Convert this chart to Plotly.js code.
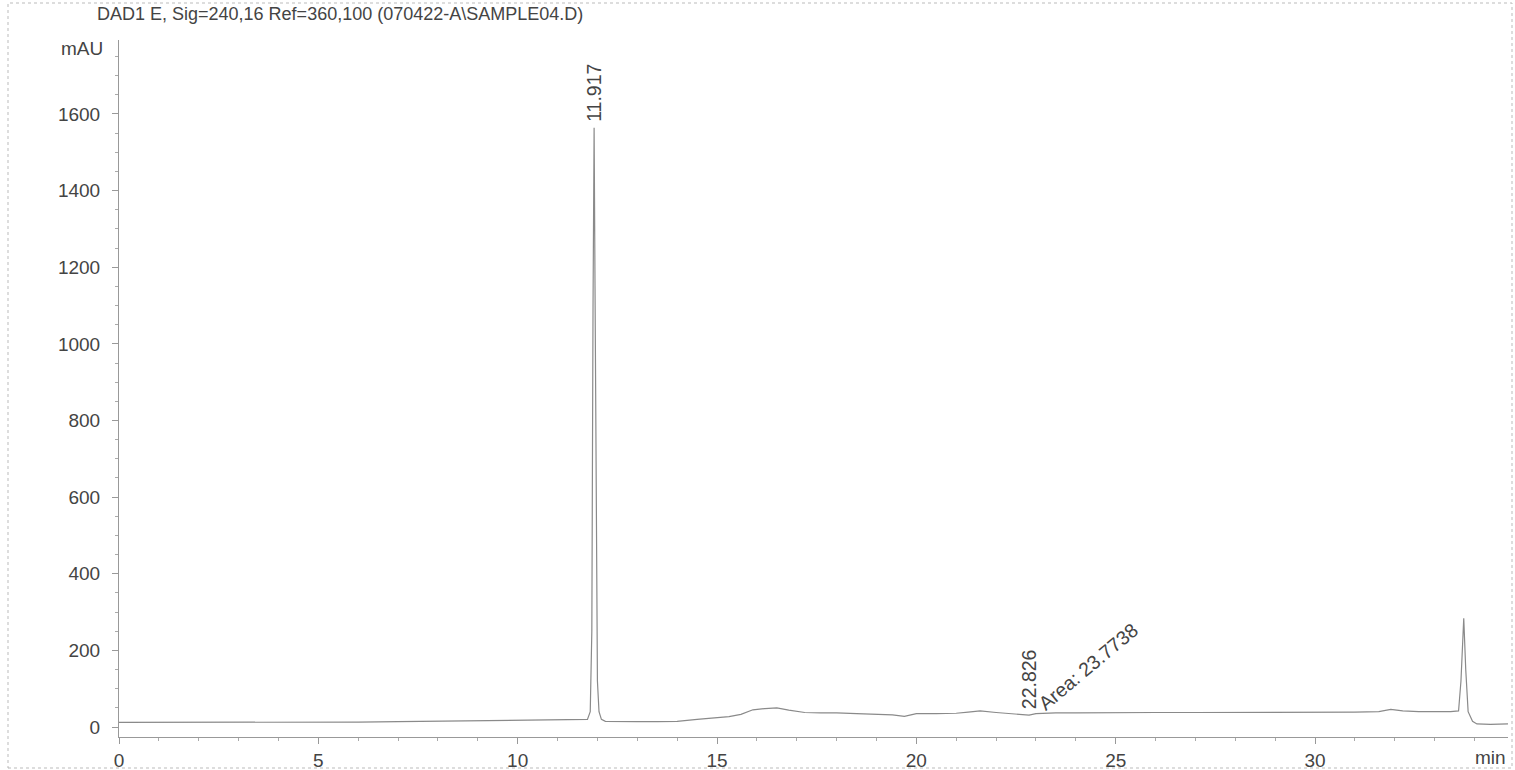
<!DOCTYPE html>
<html><head><meta charset="utf-8">
<script src="https://cdn.plot.ly/plotly-3.0.1.min.js"></script>
<style>html,body{margin:0;padding:0;background:#fff;}#chart{width:1515px;height:770px;}</style>
</head><body><div id="chart"></div>
<script>
const titleText = "DAD1 E, Sig=240,16 Ref=360,100 (070422-A\\SAMPLE04.D)";
const timeMin = [0,1,2,3,4,5,6,7,8,9,10,10.5,11,11.5,11.75,11.82,11.86,11.89,11.917,11.94,11.97,12.0,12.04,12.1,12.2,12.5,13,13.5,14,14.5,15,15.3,15.6,15.9,16.2,16.5,16.8,17.2,17.6,18,18.5,19,19.4,19.7,20,20.5,21,21.3,21.6,22,22.4,22.7,22.826,23,23.5,24,25,26,27,28,29,30,31,31.6,31.9,32.2,32.6,33,33.4,33.6,33.66,33.73,33.78,33.84,33.95,34.06,34.4,34.84];
const signalMAU = [12,12,13,13,13,13,13,14,15,16,17,18,19,20,20,40,250,1100,1564,1150,450,120,40,20,15,14,14,14,15,20,25,27,33,45,48,50,44,38,37,37,35,33,32,28,35,35,36,39,42,38,34,32,31,35,37,37,38,38,38,38,38,38,39,40,46,42,40,40,40,42,120,284,150,40,15,8,7,8];
const peakLabels = [{t:11.917, v:1564, text:"11.917"},{t:22.826, v:31, text:"22.826"}];
const areaLabel = {t:23.0, v:36, text:"Area: 23.7738"};

const gray = "#444";
const fam = "Liberation Sans, Arial";
const data = [{
  x: timeMin, y: signalMAU, type: "scatter", mode: "lines",
  line: {color: "#8a8a8a", width: 1.2}, hoverinfo: "x+y", showlegend: false
}];

const ann = [];
peakLabels.forEach(p => ann.push({
  x: p.t, y: p.v, text: p.text, showarrow: false, textangle: -90,
  xanchor: "center", yanchor: "bottom", yshift: 4,
  font: {family: fam, size: 19.5, color: gray}
}));
ann.push({
  x: areaLabel.t, y: areaLabel.v, text: areaLabel.text, showarrow: false, textangle: -40,
  xanchor: "left", yanchor: "bottom", xshift: -4, yshift: -4,
  font: {family: fam, size: 19.5, color: gray}
});
ann.push({xref: "paper", yref: "y", x: 0, y: 1770, text: "mAU", showarrow: false,
  xanchor: "right", yanchor: "middle", xshift: -14,
  font: {family: fam, size: 19, color: gray}});
ann.push({xref: "paper", yref: "paper", x: 1, y: 0, text: "min", showarrow: false,
  xanchor: "right", yanchor: "top", yshift: -8,
  font: {family: fam, size: 19, color: gray}});
ann.push({xref: "paper", yref: "paper", x: 0, y: 1, text: titleText, showarrow: false,
  xanchor: "left", yanchor: "middle", xshift: -24, yshift: 26,
  font: {family: fam, size: 18, color: gray}});

const layout = {
  width: 1515, height: 770,
  margin: {l: 119, r: 7, t: 40, b: 33},
  paper_bgcolor: "#fff", plot_bgcolor: "#fff",
  showlegend: false,
  xaxis: {
    range: [0, 34.84], showgrid: false, zeroline: false,
    showline: true, linecolor: "#999", linewidth: 1,
    tickmode: "linear", tick0: 0, dtick: 5, ticks: "outside", ticklen: 6, tickcolor: "#999",
    minor: {tickmode: "linear", tick0: 0, dtick: 1, ticks: "outside", ticklen: 3, tickcolor: "#aaa"},
    tickfont: {family: fam, size: 19, color: gray}
  },
  yaxis: {
    range: [-26, 1793], showgrid: false, zeroline: false,
    showline: true, linecolor: "#999", linewidth: 1,
    tickmode: "linear", tick0: 0, dtick: 200, ticks: "outside", ticklen: 6, tickcolor: "#999",
    ticklabelstandoff: 8,
    minor: {tickmode: "linear", tick0: 0, dtick: 50, ticks: "outside", ticklen: 3, tickcolor: "#aaa"},
    tickfont: {family: fam, size: 19, color: gray}
  },
  annotations: ann,
  shapes: [{
    type: "rect", xref: "paper", yref: "paper",
    x0: (8 - 119) / 1389, x1: (1512 - 119) / 1389,
    y0: -(768 - 737) / 697, y1: (737 - 3) / 697,
    line: {color: "#bbb", width: 1, dash: "dot"}
  }]
};
Plotly.newPlot("chart", data, layout, {displayModeBar: false, staticPlot: true});
</script></body></html>
